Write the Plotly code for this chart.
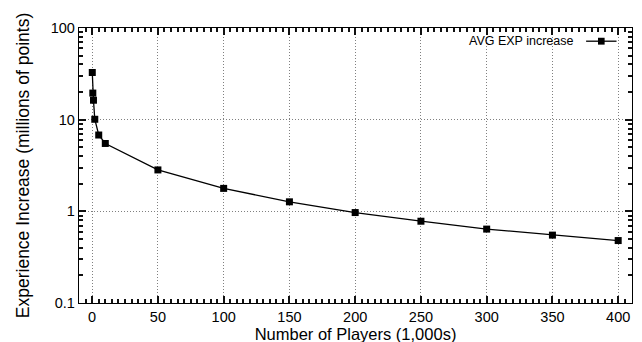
import plotly.graph_objects as go

players_k = [0.1, 0.5, 1, 2, 5, 10, 50, 100, 150, 200, 250, 300, 350, 400]
exp_increase = [32.7, 19.5, 16.3, 10.1, 6.8, 5.5, 2.83, 1.78, 1.27, 0.97, 0.78, 0.64, 0.55, 0.48]
series_name = "AVG EXP increase"
x_tick_step = 50
x_minor_step = 5

FONT = "Liberation Sans, Arial, Helvetica, sans-serif"

fig = go.Figure()
fig.add_trace(go.Scatter(
    x=players_k, y=exp_increase, mode="lines+markers", name=series_name,
    line=dict(color="black", width=1.3),
    marker=dict(symbol="square", size=7, color="black"),
    showlegend=False,
))

# gnuplot-style key: text followed by the line/marker sample
fig.add_annotation(x=0.897, y=0.952, xref="paper", yref="paper", text=series_name,
                   showarrow=False, xanchor="right", yanchor="middle",
                   font=dict(family=FONT, size=12.5, color="black"))
fig.add_shape(type="line", xref="paper", yref="paper", x0=0.917, x1=0.972, y0=0.952, y1=0.952,
              line=dict(color="black", width=1.3))
fig.add_shape(type="rect", xref="paper", yref="paper", x0=0.9385, x1=0.9505, y0=0.9395, y1=0.9645,
              line=dict(width=0), fillcolor="black")

axis_common = dict(
    showline=True, linecolor="black", linewidth=1.3, mirror="allticks",
    ticks="inside", ticklen=7, tickcolor="#111111", tickwidth=1.5,
    showgrid=True, gridcolor="#808080", griddash="1px,2px", gridwidth=1,
    zeroline=False,
    tickfont=dict(family=FONT, size=14.5, color="black"),
)

fig.update_xaxes(
    range=[-10, 410.5], tickmode="linear", tick0=0, dtick=x_tick_step,
    title=dict(text="Number of Players (1,000s)", font=dict(family=FONT, size=16.5, color="black"), standoff=2),
    minor=dict(ticks="inside", ticklen=4, dtick=x_minor_step, tickcolor="#111111", tickwidth=1.5, showgrid=False),
    **axis_common,
)
fig.update_yaxes(
    type="log", range=[-1, 2], tickmode="linear", tick0=0, dtick=1,
    title=dict(text="Experience Increase (millions of points)", font=dict(family=FONT, size=17.5, color="black"), standoff=16),
    minor=dict(ticks="inside", ticklen=4, dtick="D1", tickcolor="#111111", tickwidth=1.5, showgrid=False),
    **axis_common,
)

fig.update_layout(
    width=642, height=342,
    margin=dict(l=71, r=18, t=15, b=44),
    paper_bgcolor="white", plot_bgcolor="white",
    font=dict(family=FONT, color="black"),
)

fig.write_html("out.html")
